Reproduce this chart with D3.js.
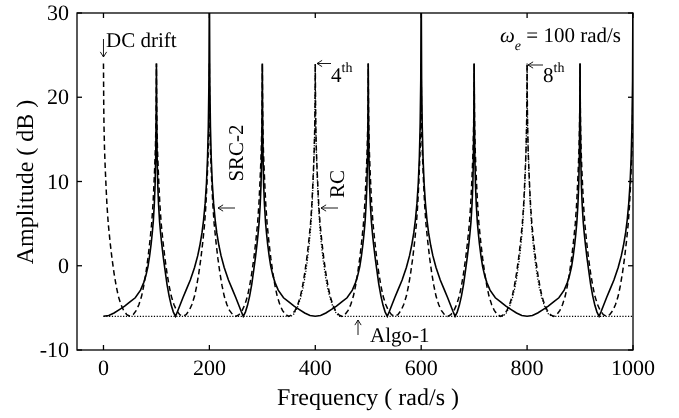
<!DOCTYPE html>
<html>
<head>
<meta charset="utf-8">
<script src="https://cdn.jsdelivr.net/npm/d3@7"></script>
<style>
  body { margin: 0; background: #fff; }
  svg { will-change: transform; }
  text { font-family: "Liberation Serif", "Times New Roman", serif; fill: #000; text-rendering: geometricPrecision; }
</style>
</head>
<body>
<svg id="chart" width="679" height="418"></svg>
<script>
// axis ticks
const xTicks = [0, 200, 400, 600, 800, 1000];
const yTicks = [-10, 0, 10, 20, 30];

// SRC-2 (solid): one 400 rad/s period, repeated at these starts
const solidPeriod = [
  [0, -6.0], [10, -5.9], [20, -5.6], [30, -5.2], [40, -4.8], [50, -4.3], [60, -3.8], [70, -2.9],
  [76, -2.0], [80, -1.2], [84, -0.1], [87, 1.1], [90, 2.6], [92, 3.8], [94, 5.2], [96, 7.3],
  [97.5, 9.6], [98.7, 13], [99.5, 18], [100, 24],
  [100.5, 18], [101.3, 13], [102.5, 9.6], [104, 7.3], [106, 5.2], [108, 3.8], [110, 2.6], [113, 1.0],
  [116, -0.4], [120, -2.2], [124, -3.6], [128, -4.7], [132, -5.5], [136, -6.0],
  [140, -5.4], [145, -4.6], [150, -3.8], [156, -2.9], [164, -1.7], [172, -0.2], [178, 1.2], [182, 2.4],
  [186, 3.9], [189, 5.4], [192, 7.4], [194.5, 9.8], [196.5, 12.8], [198, 16.5], [199.2, 22], [200, 34],
  [200.8, 22], [202, 16.5], [203.5, 12.8], [205.5, 9.8], [208, 7.4], [211, 5.4], [214, 3.9], [218, 2.4],
  [222, 1.2], [228, -0.2], [236, -1.7], [244, -2.9], [250, -3.8], [255, -4.6], [260, -5.4], [264, -6.0],
  [268, -5.5], [272, -4.7], [276, -3.6], [280, -2.2], [284, -0.4], [287, 1.0], [290, 2.6], [292, 3.8],
  [294, 5.2], [296, 7.3], [297.5, 9.6], [298.7, 13], [299.5, 18], [300, 24],
  [300.5, 18], [301.3, 13], [302.5, 9.6], [304, 7.3], [306, 5.2], [308, 3.8], [310, 2.6], [313, 1.1],
  [316, -0.1], [320, -1.2], [324, -2.0], [330, -2.9], [340, -3.8], [350, -4.3], [360, -4.8], [370, -5.2],
  [380, -5.6], [390, -5.9]
];
const solidStarts = [0, 400, 800];

// RC (dashed): one 100 rad/s period, peaks at every harmonic
const rcPeriod = [
  [0, 24], [0.5, 19], [1, 16.5], [2, 13.8], [3.3, 11.6], [5, 9.2], [6.5, 7.3], [9, 5.0],
  [12.5, 2.8], [16, 0.9], [20, -0.9], [24, -2.4], [28, -3.6], [33, -4.6], [38, -5.3], [44, -5.8],
  [50, -6.0], [56, -5.8], [62, -5.3], [67, -4.6], [72, -3.6], [76, -2.4], [80, -0.9], [84, 0.9],
  [87.5, 2.8], [91, 5.0], [93.5, 7.3], [95, 9.2], [96.7, 11.6], [98, 13.8], [99, 16.5], [99.5, 19]
];
const rcStarts = [0, 100, 200, 300, 400, 500, 600, 700, 800, 900];
const rcEnd = [1000, 24];

// Algo-1 (dotted): flat floor with peaks at the 4th and 8th harmonic
const algoFloor = -6;
const algoPeak = [
  [-46, -6.0], [-40, -5.7], [-34, -5.0], [-28, -3.9], [-23, -2.6], [-19, -1.2], [-15, 0.6], [-12, 2.2],
  [-9, 4.2], [-6.5, 6.6], [-4.8, 8.8], [-3.3, 11.2], [-2, 13.8], [-1, 16.5], [-0.5, 19], [0, 24],
  [0.5, 19], [1, 16.5], [2, 13.8], [3.3, 11.2], [4.8, 8.8], [6.5, 6.6], [9, 4.2], [12, 2.2],
  [15, 0.6], [19, -1.2], [23, -2.6], [28, -3.9], [34, -5.0], [40, -5.7], [46, -6.0]
];
const algoCenters = [400, 800];

const width = 679, height = 418;
const margin = { top: 13, right: 46, bottom: 68, left: 77 };
const fontSize = 21;

const svg = d3.select("#chart");
svg.append("rect").attr("width", width).attr("height", height).attr("fill", "#fff");

const x = d3.scaleLinear().domain([-50, 1000]).range([margin.left, width - margin.right]);
const y = d3.scaleLinear().domain([-10, 30]).range([height - margin.bottom, margin.top]);

svg.append("defs").append("clipPath").attr("id", "plot-clip")
  .append("rect")
  .attr("x", x(-50)).attr("y", y(30))
  .attr("width", x(1000) - x(-50)).attr("height", y(-10) - y(30));

// build series from the read-off pieces
var solidData = [];
solidStarts.forEach(function (s) {
  solidPeriod.forEach(function (p) {
    if (s + p[0] <= 1000) solidData.push([s + p[0], p[1]]);
  });
});

var rcData = [];
rcStarts.forEach(function (s) {
  rcPeriod.forEach(function (p) { rcData.push([s + p[0], p[1]]); });
});
rcData.push(rcEnd);

var algoData = [[0, algoFloor]];
algoCenters.forEach(function (c) {
  algoPeak.forEach(function (p) { algoData.push([c + p[0], p[1]]); });
});
algoData.push([1000, algoFloor]);

var line = d3.line()
  .x(function (d) { return x(d[0]); })
  .y(function (d) { return y(d[1]); });

var plot = svg.append("g").attr("clip-path", "url(#plot-clip)");

plot.append("path").datum(algoData)
  .attr("d", line).attr("fill", "none").attr("stroke", "#000")
  .attr("stroke-width", 1.2).attr("stroke-dasharray", "1.2,1.6");

plot.append("path").datum(rcData)
  .attr("d", line).attr("fill", "none").attr("stroke", "#000")
  .attr("stroke-width", 1.5).attr("stroke-dasharray", "5.5,3.5");

plot.append("path").datum(solidData)
  .attr("d", line).attr("fill", "none").attr("stroke", "#000")
  .attr("stroke-width", 1.6);

// axes box with inward ticks on all sides
var tickLen = 5;
var axes = svg.append("g").attr("stroke", "#000").attr("stroke-width", 1.3).attr("fill", "none");
axes.append("rect")
  .attr("x", x(-50)).attr("y", y(30))
  .attr("width", x(1000) - x(-50)).attr("height", y(-10) - y(30));

xTicks.forEach(function (t) {
  axes.append("line").attr("x1", x(t)).attr("x2", x(t)).attr("y1", y(-10)).attr("y2", y(-10) - tickLen);
  axes.append("line").attr("x1", x(t)).attr("x2", x(t)).attr("y1", y(30)).attr("y2", y(30) + tickLen);
});
yTicks.forEach(function (t) {
  axes.append("line").attr("x1", x(-50)).attr("x2", x(-50) + tickLen).attr("y1", y(t)).attr("y2", y(t));
  axes.append("line").attr("x1", x(1000)).attr("x2", x(1000) - tickLen).attr("y1", y(t)).attr("y2", y(t));
});

svg.selectAll(".xtl").data(xTicks).enter().append("text")
  .attr("x", function (d) { return x(d); })
  .attr("y", y(-10) + 25)
  .attr("text-anchor", "middle")
  .attr("font-size", 22)
  .text(function (d) { return d; });

svg.selectAll(".ytl").data(yTicks).enter().append("text")
  .attr("x", x(-50) - 8)
  .attr("y", function (d) { return y(d) + 7; })
  .attr("text-anchor", "end")
  .attr("font-size", 22)
  .text(function (d) { return d; });

svg.append("text")
  .attr("x", 368)
  .attr("y", y(-10) + 55)
  .attr("text-anchor", "middle")
  .attr("font-size", 24)
  .text("Frequency ( rad/s )");

svg.append("text")
  .attr("transform", "translate(33,182) rotate(-90)")
  .attr("text-anchor", "middle")
  .attr("font-size", 24)
  .text("Amplitude ( dB )");

// annotations
function arrow(x1, y1, x2, y2) {
  var g = svg.append("g").attr("stroke", "#000").attr("stroke-width", 0.9).attr("fill", "none");
  g.append("line").attr("x1", x1).attr("y1", y1).attr("x2", x2).attr("y2", y2);
  var a = Math.atan2(y2 - y1, x2 - x1), h = 6, w = 0.55;
  g.append("path").attr("d",
    "M" + (x2 - h * Math.cos(a - w)) + "," + (y2 - h * Math.sin(a - w)) +
    "L" + x2 + "," + y2 +
    "L" + (x2 - h * Math.cos(a + w)) + "," + (y2 - h * Math.sin(a + w)));
}

arrow(x(0), 39, x(0), 57);
svg.append("text").attr("x", 106).attr("y", 47).attr("font-size", fontSize).text("DC drift");

arrow(235, 208, 218, 208);
svg.append("text")
  .attr("transform", "translate(243,153) rotate(-90)")
  .attr("text-anchor", "middle").attr("font-size", fontSize).text("SRC-2");

arrow(338, 208, 321, 208);
svg.append("text")
  .attr("transform", "translate(344,184) rotate(-90)")
  .attr("text-anchor", "middle").attr("font-size", fontSize).text("RC");

arrow(331, 63.5, 317, 63.5);
var t4 = svg.append("text").attr("x", 331).attr("y", 82).attr("font-size", fontSize);
t4.append("tspan").text("4");
t4.append("tspan").attr("font-size", 14).attr("dy", -10).text("th");

arrow(543, 65, 528, 65);
var t8 = svg.append("text").attr("x", 543).attr("y", 82).attr("font-size", fontSize);
t8.append("tspan").text("8");
t8.append("tspan").attr("font-size", 14).attr("dy", -10).text("th");

var we = svg.append("text").attr("x", 500).attr("y", 42).attr("font-size", fontSize);
we.append("tspan").attr("font-style", "italic").text("ω");
we.append("tspan").attr("font-style", "italic").attr("font-size", 14).attr("dy", 8).text("e");
we.append("tspan").attr("dy", -8).text(" = 100 rad/s");

arrow(358, 335, 358, 320);
svg.append("text").attr("x", 370).attr("y", 342).attr("font-size", fontSize).text("Algo-1");
</script>
</body>
</html>
